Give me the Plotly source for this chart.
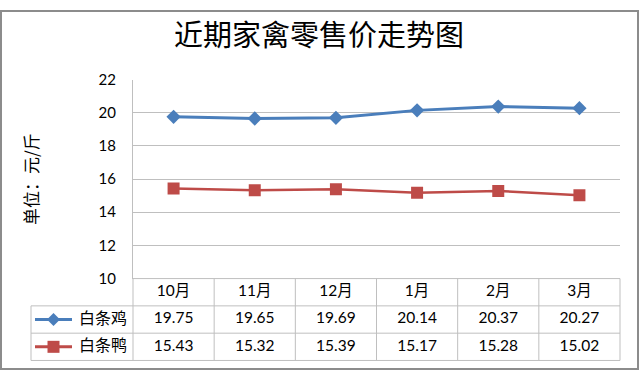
import plotly.graph_objects as go

W, H = 640, 378
months = ["10月", "11月", "12月", "1月", "2月", "3月"]
chicken = [19.75, 19.65, 19.69, 20.14, 20.37, 20.27]
duck = [15.43, 15.32, 15.39, 15.17, 15.28, 15.02]
series_names = ["白条鸡", "白条鸭"]
title_text = "近期家禽零售价走势图"
y_title = "单位：元/斤"
y_ticks = [10, 12, 14, 16, 18, 20, 22]

BLUE = "#4a7ebb"
RED = "#be4b48"
GRID = "#bfbfbf"
CJK = "Noto Sans CJK SC"
NUM = "Lato, Noto Sans CJK SC, sans-serif"

# pixel geometry
PL, PR, PT, PB = 133, 620, 73, 282          # plot area
T_BOT, LEG_L = 368, 31                       # table bottom / legend column left
COLW = (PR - PL) / len(months)


def px(x):
    return x / W


def py(y):
    return 1 - y / H


idx = list(range(len(months)))

fig = go.Figure()
fig.add_trace(go.Scatter(x=idx, y=chicken, mode="lines+markers", name=series_names[0],
                         line=dict(color=BLUE, width=3),
                         marker=dict(symbol="diamond", size=11, color=BLUE)))
fig.add_trace(go.Scatter(x=idx, y=duck, mode="lines+markers", name=series_names[1],
                         line=dict(color=RED, width=2.5),
                         marker=dict(symbol="square", size=12, color=RED)))

# table text (row 0 = header, rows 1,2 = series)
fig.add_trace(go.Scatter(x=idx, y=[0] * len(months), yaxis="y2", mode="text", text=months,
                         textfont=dict(family=NUM, size=15.5, color="#000"), cliponaxis=False,
                         hoverinfo="skip"))
for r, vals in enumerate([chicken, duck], start=1):
    fig.add_trace(go.Scatter(x=idx, y=[r] * len(vals), yaxis="y2", mode="text",
                             text=[f"{v:.2f}" for v in vals],
                             textfont=dict(family=NUM, size=15.5, color="#000"), cliponaxis=False,
                             hoverinfo="skip"))
# legend column (own x axis in pixel units)
fig.add_trace(go.Scatter(x=[103, 103], y=[1, 2], xaxis="x2", yaxis="y2", mode="text", text=series_names,
                         textfont=dict(family=CJK, size=16, color="#000"), cliponaxis=False,
                         hoverinfo="skip"))
fig.add_trace(go.Scatter(x=[53.5], y=[1], xaxis="x2", yaxis="y2", mode="markers", cliponaxis=False,
                         marker=dict(symbol="diamond", size=10, color=BLUE), hoverinfo="skip"))
fig.add_trace(go.Scatter(x=[53.5], y=[2], xaxis="x2", yaxis="y2", mode="markers", cliponaxis=False,
                         marker=dict(symbol="square", size=12, color=RED), hoverinfo="skip"))

shapes = []
row_h = (T_BOT - PB) / 3
rows_px = [PB + row_h * k for k in range(4)]
shapes.append(dict(type="line", xref="paper", yref="paper", x0=px(PL), x1=px(PR),
                   y0=py(PB), y1=py(PB), line=dict(color=GRID, width=1)))
for yy in rows_px[1:]:
    shapes.append(dict(type="line", xref="paper", yref="paper", x0=px(LEG_L), x1=px(PR),
                       y0=py(yy), y1=py(yy), line=dict(color=GRID, width=1)))
for i in range(len(months) + 1):
    xx = PL + COLW * i
    shapes.append(dict(type="line", xref="paper", yref="paper", x0=px(xx), x1=px(xx),
                       y0=py(PB), y1=py(T_BOT), line=dict(color=GRID, width=1)))
shapes.append(dict(type="line", xref="paper", yref="paper", x0=px(LEG_L), x1=px(LEG_L),
                   y0=py(rows_px[1]), y1=py(T_BOT), line=dict(color=GRID, width=1)))
for k, col in zip([1, 2], [BLUE, RED]):
    yc = PB + row_h * (k + 0.5)
    shapes.append(dict(type="line", xref="paper", yref="paper", x0=px(35), x1=px(72),
                       y0=py(yc), y1=py(yc), line=dict(color=col, width=3), layer="below"))
# outer border
shapes.append(dict(type="rect", xref="paper", yref="paper", x0=px(1), x1=px(638), y0=py(1), y1=py(377),
                   line=dict(color="#8c8c8c", width=2)))

fig.update_layout(
    width=W, height=H, margin=dict(l=0, r=0, t=0, b=0),
    paper_bgcolor="white", plot_bgcolor="rgba(0,0,0,0)", showlegend=False,
    shapes=shapes,
    title=dict(text=title_text, x=px(319), xanchor="center", xref="paper",
               y=py(36), yref="container", yanchor="middle",
               font=dict(family=CJK, size=29, color="#000")),
    xaxis=dict(domain=[px(PL), px(PR)], range=[-0.5, len(months) - 0.5],
               showticklabels=False, showgrid=False, zeroline=False, showline=False, fixedrange=True),
    xaxis2=dict(domain=[px(LEG_L), px(PL)], range=[LEG_L, PL], anchor="y2", visible=False,
                fixedrange=True),
    yaxis=dict(domain=[py(PB), py(PT)], range=[10, 22], tickvals=y_ticks,
               showgrid=True, gridcolor=GRID, gridwidth=1, zeroline=False,
               showline=True, linecolor=GRID, linewidth=1,
               ticks="outside", ticklen=0, ticklabelstandoff=13,
               tickfont=dict(family="Lato, sans-serif", size=15, color="#000"), fixedrange=True,
               title=dict(text=y_title, font=dict(family=CJK, size=17, color="#000"), standoff=55)),
    yaxis2=dict(domain=[py(T_BOT), py(PB)], range=[2.5, -0.5], anchor="x", visible=False,
                fixedrange=True),
)

fig.write_html("out.html", post_script="document.body.style.margin='0';",
               config={"displayModeBar": False})
